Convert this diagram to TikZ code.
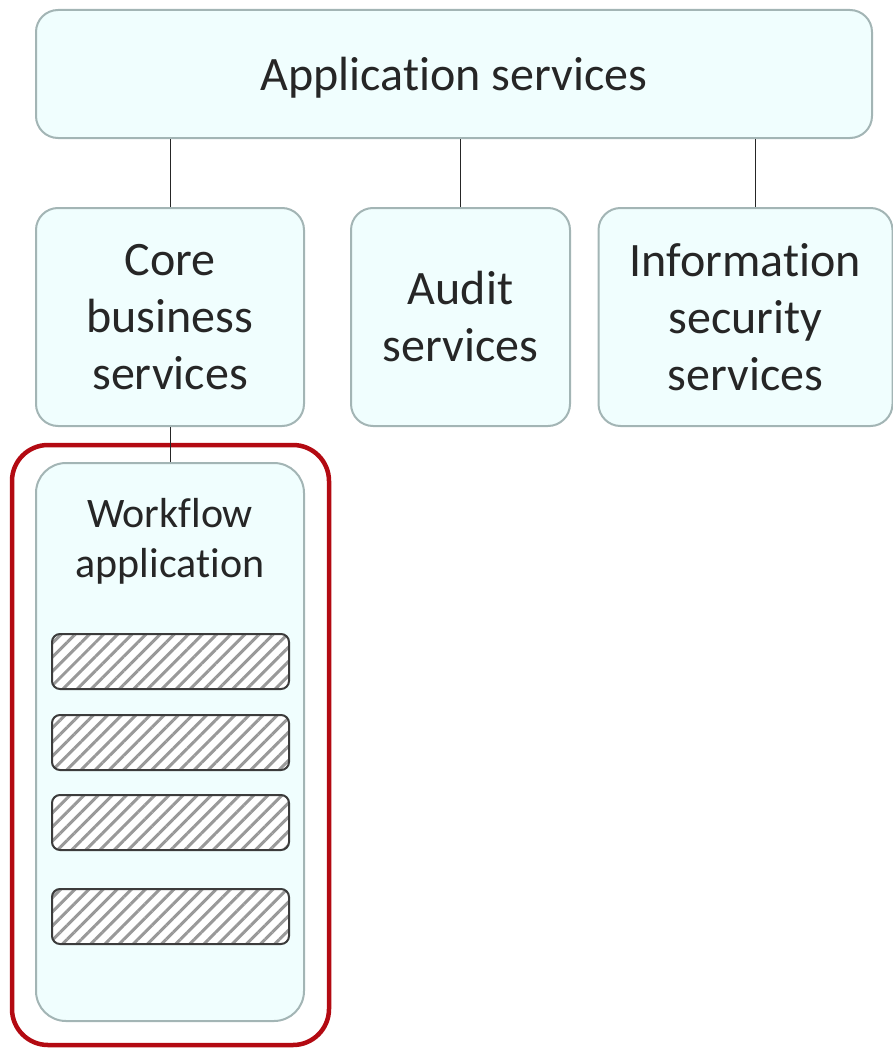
\documentclass[tikz,border=0pt]{standalone}
\usepackage{fontspec}
\setmainfont{Carlito}[Ligatures=NoCommon]
\usetikzlibrary{patterns.meta}
\definecolor{boxfill}{HTML}{F0FEFE}
\definecolor{boxline}{HTML}{A3B5B5}
\definecolor{ink}{HTML}{262626}
\definecolor{redline}{HTML}{B30A12}
\tikzset{
  svcbox/.style={draw=boxline, fill=boxfill, line width=2pt, rounded corners=22pt,
    text=ink, align=center, inner sep=0pt, font=\fontsize{48}{57}\selectfont},
  barbox/.style={draw=ink!90, line width=2pt, rounded corners=8pt,
    minimum width=237pt, minimum height=55pt, inner sep=0pt,
    preaction={fill=white},
    pattern={Lines[angle=45,distance=10pt,line width=3pt]}, pattern color=black!40},
  link/.style={draw=ink, line width=1pt}
}
\begin{document}
\begin{tikzpicture}[x=1pt,y=-1pt]
        \useasboundingbox (0,0) rectangle (893,1049);
        % top level
        \node[svcbox, minimum width=836pt, minimum height=128pt, text depth=0pt] (app) at (454,74) {Application services};
        % second level
        \node[svcbox, minimum width=268pt, minimum height=218pt] (core) at (170,317) {Core\\business\\services};
        \node[svcbox, minimum width=219pt, minimum height=218pt] (audit) at (460.5,317) {Audit\\services};
        \node[svcbox, minimum width=294pt, minimum height=218pt] (info) at (745.5,317) {Information\\security\\services};
        % highlighted application
        \node[draw=redline, line width=4.5pt, rounded corners=36pt, minimum width=317pt, minimum height=600pt] (focus) at (170.5,745) {};
        \node[svcbox, rounded corners=30pt, minimum width=268pt, minimum height=558pt] (wf) at (170,742) {};
        \node[text=ink, align=center, font=\fontsize{42}{50}\selectfont] (wftext) at (170,541) {Workflow\\application};
        \node[barbox] (bar1) at (170.5,661.5) {};
        \node[barbox] (bar2) at (170.5,742.5) {};
        \node[barbox] (bar3) at (170.5,822.5) {};
        \node[barbox] (bar4) at (170.5,916.5) {};
        % connectors
        \draw[link] (core.north) -- (core.north |- app.south);
        \draw[link] (audit.north) -- (audit.north |- app.south);
        \draw[link] ([xshift=10pt]info.north) -- ([xshift=10pt]info.north |- app.south);
        \draw[link] (wf.north) -- (core.south);
\end{tikzpicture}
\end{document}
